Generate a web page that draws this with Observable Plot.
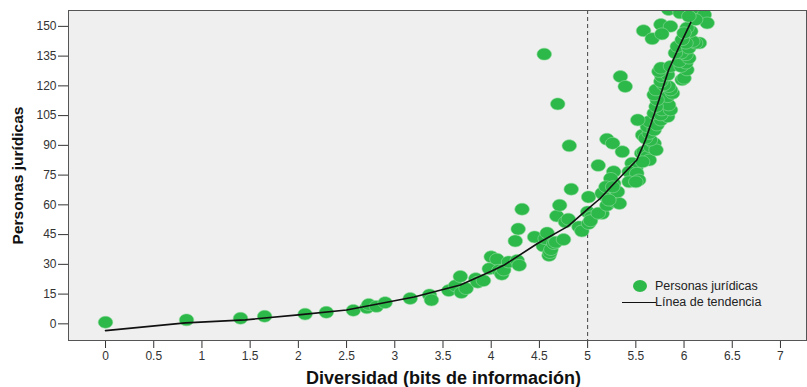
<!DOCTYPE html>
<html>
<head>
<meta charset="utf-8">
<script src="https://cdn.jsdelivr.net/npm/d3@7"></script>
<script src="https://cdn.jsdelivr.net/npm/@observablehq/plot@0.6"></script>
<style>
  body { margin: 0; background: #fff; font-family: "Liberation Sans", Arial, sans-serif; }
  #wrap { position: relative; width: 807px; height: 387px; }
  .leg { position: absolute; font-size: 12.5px; color: #222; line-height: 14px; white-space: nowrap; }
</style>
</head>
<body>
<div id="wrap"></div>
<script>
// ---- data ----
const diversidad = [
  0.00, 0.84, 1.40, 1.65, 2.07, 2.29, 2.57, 2.71, 2.73, 2.81, 2.90, 3.16, 3.36, 3.38, 3.56, 3.63, 3.68, 3.69, 3.74, 3.84,
  3.86, 3.92, 3.98, 4.00, 4.06, 4.08, 4.11, 4.13, 4.18, 4.27, 4.29, 4.25, 4.28, 4.32, 4.45, 4.54, 4.56, 4.58, 4.60, 4.61,
  4.62, 4.65, 4.67, 4.68, 4.71, 4.75, 4.77, 4.80, 4.83, 4.91, 4.94, 5.00, 5.01, 5.01, 5.04, 5.03, 4.55, 4.69, 4.81, 5.11,
  5.15, 5.11, 5.17, 5.20, 5.24, 5.27, 5.29, 5.33, 5.22, 5.27, 5.31, 5.15, 5.22, 5.27, 5.24, 5.19, 5.26, 5.20, 5.26, 5.36,
  5.34, 5.39, 5.46, 5.50, 5.43, 5.51, 5.53, 5.43, 5.50, 5.56, 5.58, 5.62, 5.64, 5.57, 5.65, 5.69, 5.71, 5.65, 5.57, 5.60,
  5.64, 5.62, 5.69, 5.64, 5.72, 5.76, 5.52, 5.83, 5.69, 5.76, 5.77, 5.86, 5.84, 5.71, 5.83, 5.72, 5.69, 5.71, 5.88, 5.86,
  5.84, 5.79, 5.76, 5.77, 5.83, 5.74, 5.76, 5.86, 5.98, 6.00, 6.03, 5.97, 6.02, 5.95, 6.05, 6.02, 5.97, 5.91, 5.93, 6.05,
  6.16, 6.12, 6.09, 6.02, 5.98, 6.07, 6.03, 6.00, 5.58, 5.67, 5.76, 5.86, 5.77, 5.84, 5.95, 5.96, 6.08, 6.21, 6.24, 6.12,
  6.05
];
const personas = [
  0.8, 2.0, 2.8, 3.8, 4.9, 5.8, 6.8, 8.1, 9.8, 8.8, 10.7, 12.8, 14.6, 12.0, 16.8, 19.2, 23.9, 15.8, 17.8, 22.8,
  21.0, 21.8, 27.8, 33.8, 32.6, 27.0, 25.0, 27.2, 31.2, 32.0, 29.5, 41.8, 47.8, 57.8, 43.8, 39.3, 43.0, 45.8, 34.5, 36.0,
  37.5, 40.5, 41.2, 54.4, 59.8, 42.5, 51.4, 52.8, 67.9, 48.9, 46.8, 56.4, 64.0, 50.6, 53.9, 52.0, 136.0, 110.9, 89.8, 79.9,
  55.6, 55.8, 64.9, 59.8, 63.2, 65.8, 61.5, 60.7, 68.3, 70.8, 66.6, 65.8, 62.4, 76.7, 73.3, 69.1, 69.1, 93.1, 91.0, 86.8,
  124.7, 119.7, 81.0, 78.4, 76.7, 75.9, 72.5, 71.6, 71.6, 86.0, 86.8, 84.3, 82.6, 81.7, 89.3, 91.0, 87.7, 92.7, 95.2, 93.6,
  96.1, 99.4, 97.8, 102.0, 100.3, 102.8, 102.8, 104.5, 106.2, 105.4, 107.9, 107.9, 110.4, 109.6, 114.6, 113.0, 115.5, 118.0, 116.3, 118.0,
  119.7, 120.5, 122.2, 124.7, 125.6, 127.3, 129.0, 129.8, 123.1, 123.9, 128.1, 129.8, 131.5, 132.3, 134.0, 135.7, 136.6, 136.6, 139.9, 139.1,
  141.6, 141.6, 142.4, 141.6, 143.3, 147.5, 149.2, 146.7, 147.8, 143.8, 150.9, 150.0, 146.2, 158.5, 158.5, 156.8, 157.6, 155.9, 151.7, 153.4,
  155.1
];
const trendX = [0, 0.83, 1.45, 2.0, 2.5, 2.85, 3.2, 3.68, 4.0, 4.13, 4.48, 4.79, 4.84, 5.0, 5.13, 5.26, 5.51, 5.60, 5.74, 5.84, 5.95, 6.07];
const trendY = [-3.4, 0.5, 2.0, 4.5, 7.0, 10.3, 13.5, 19.6, 26.5, 29.5, 40.5, 49.0, 51.0, 57.8, 63.2, 70.0, 82.6, 92.7, 112.9, 128.0, 139.8, 152.0];
const xTicks = [0, 0.5, 1, 1.5, 2, 2.5, 3, 3.5, 4, 4.5, 5, 5.5, 6, 6.5, 7];
const yTicks = [0, 15, 30, 45, 60, 75, 90, 105, 120, 135, 150];
const cutoff = [5];
const xTitle = "Diversidad (bits de información)";
const yTitle = "Personas jurídicas";
const legendLabels = ["Personas jurídicas", "Línea de tendencia"];

const points = diversidad.map((x, i) => ({x, y: personas[i]}));
const trend = trendX.map((x, i) => ({x, y: trendY[i]}));

// ellipse symbol (markers are slightly wider than tall)
const ellipse = {
  draw(ctx, size) {
    const r = Math.sqrt(size / Math.PI);
    const rx = 1.12 * r, ry = 0.92 * r, k = 0.5523;
    ctx.moveTo(rx, 0);
    ctx.bezierCurveTo(rx, k * ry, k * rx, ry, 0, ry);
    ctx.bezierCurveTo(-k * rx, ry, -rx, k * ry, -rx, 0);
    ctx.bezierCurveTo(-rx, -k * ry, -k * rx, -ry, 0, -ry);
    ctx.bezierCurveTo(k * rx, -ry, rx, -k * ry, rx, 0);
    ctx.closePath();
  }
};

const green = "#2db84a";

const chart = Plot.plot({
  width: 807,
  height: 387,
  marginTop: 10,
  marginBottom: 47,
  marginLeft: 68,
  marginRight: 1,
  style: {fontFamily: "'Liberation Sans', Arial, sans-serif", fontSize: "12px", color: "#333", background: "#fff"},
  x: {domain: [-0.384, 7.27], ticks: xTicks, tickFormat: d => String(d), tickSize: 8, tickPadding: 3, label: null},
  y: {domain: [-8.4, 158], ticks: yTicks, tickFormat: d => String(d), tickSize: 10, tickPadding: 2, label: null},
  marks: [
    Plot.frame({fill: "#efefef", stroke: null}),
    Plot.ruleX(cutoff, {stroke: "#444", strokeWidth: 1, strokeDasharray: "4,3"}),
    Plot.dot(points, {x: "x", y: "y", r: 6.5, symbol: ellipse, fill: green, stroke: "#8fdc9c", strokeWidth: 0.6, clip: true}),
    Plot.line(trend, {x: "x", y: "y", stroke: "#111", strokeWidth: 1.6, clip: true}),
    Plot.frame({stroke: "#555", strokeWidth: 1}),
    Plot.text([xTitle], {frameAnchor: "bottom", textAnchor: "middle", dx: 6, dy: 43, text: d => d, fontWeight: "bold", fontSize: 18, fill: "#111"}),
    Plot.text([yTitle], {frameAnchor: "left", textAnchor: "middle", lineAnchor: "middle", dx: -50, rotate: -90, text: d => d, fontWeight: "bold", fontSize: 15.5, fill: "#111"})
  ]
});

const wrap = document.getElementById("wrap");
wrap.appendChild(chart);

// legend
const dot = document.createElement("div");
dot.style.cssText = `position:absolute;left:633px;top:280px;width:14px;height:12px;border-radius:50%;background:${green};`;
wrap.appendChild(dot);
const t1 = document.createElement("div");
t1.className = "leg"; t1.style.left = "655px"; t1.style.top = "279px"; t1.textContent = legendLabels[0];
wrap.appendChild(t1);
const ln = document.createElement("div");
ln.style.cssText = "position:absolute;left:622px;top:302px;width:34px;height:0;border-top:1.5px solid #111;";
wrap.appendChild(ln);
const t2 = document.createElement("div");
t2.className = "leg"; t2.style.left = "655px"; t2.style.top = "295px"; t2.textContent = legendLabels[1];
wrap.appendChild(t2);
</script>
</body>
</html>
